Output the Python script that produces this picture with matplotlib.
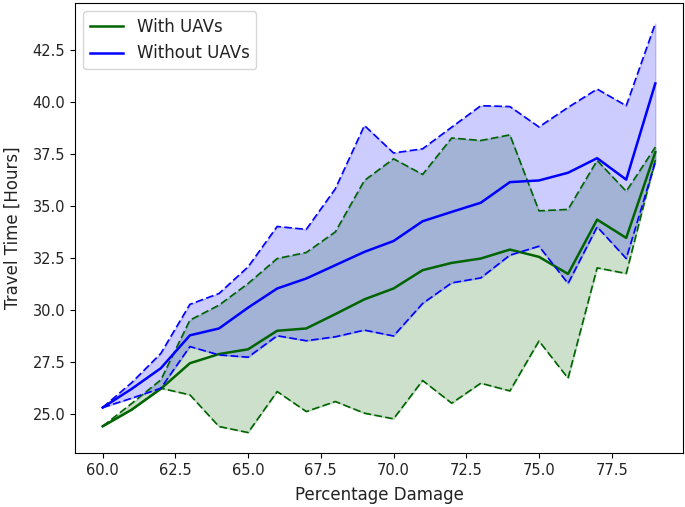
import numpy as np
import matplotlib
matplotlib.use("Agg")
import matplotlib.pyplot as plt

# percentage damage (x axis)
damage = list(range(60, 80))

# travel time with UAVs: mean and band edges
with_mean = [24.4, 25.2, 26.2, 27.43, 27.87, 28.1, 28.99, 29.1, 29.79, 30.5,
             31.02, 31.9, 32.25, 32.46, 32.89, 32.54, 31.72, 34.33, 33.45, 37.57]
with_upper = [24.4, 25.5, 26.63, 29.5, 30.22, 31.26, 32.46, 32.75, 33.74, 36.21,
              37.25, 36.5, 38.25, 38.13, 38.4, 34.75, 34.82, 37.17, 35.69, 37.81]
with_lower = [24.4, 25.2, 26.23, 25.91, 24.39, 24.1, 26.07, 25.11, 25.59, 25.03,
              24.76, 26.6, 25.51, 26.47, 26.1, 28.5, 26.71, 32.01, 31.74, 37.2]

# travel time without UAVs
without_mean = [25.3, 26.2, 27.19, 28.77, 29.1, 30.1, 31.02, 31.5, 32.14, 32.78,
                33.3, 34.25, 34.7, 35.14, 36.13, 36.21, 36.58, 37.28, 36.25, 40.87]
without_upper = [25.3, 26.5, 27.9, 30.26, 30.78, 32.06, 34.0, 33.86, 35.81, 38.85,
                 37.53, 37.73, 38.77, 39.8, 39.76, 38.78, 39.72, 40.6, 39.8, 43.75]
without_lower = [25.3, 25.75, 26.23, 28.23, 27.83, 27.72, 28.75, 28.51, 28.7, 29.02,
                 28.74, 30.3, 31.29, 31.53, 32.62, 33.05, 31.26, 33.98, 32.46, 37.09]

fig = plt.figure(figsize=(6.85, 5.07), dpi=100)
ax = fig.add_axes([0.1095, 0.1065, 0.8875, 0.8875])

dash = (4.6, 2.0)

ax.plot(damage, with_mean, color="darkgreen", linewidth=1.8, label="With UAVs")
ax.plot(damage, with_upper, "--", color="darkgreen", linewidth=1.2, dashes=dash)
ax.plot(damage, with_lower, "--", color="darkgreen", linewidth=1.2, dashes=dash)
ax.fill_between(damage, with_lower, with_upper, color="darkgreen", alpha=0.2)

ax.plot(damage, without_mean, color="blue", linewidth=1.8, label="Without UAVs")
ax.plot(damage, without_upper, "--", color="blue", linewidth=1.2, dashes=dash)
ax.plot(damage, without_lower, "--", color="blue", linewidth=1.2, dashes=dash)
ax.fill_between(damage, without_lower, without_upper, color="blue", alpha=0.2)

ax.set_xlabel("Percentage Damage", fontsize=12, labelpad=6, color="#222222")
ax.set_ylabel("Travel Time [Hours]", fontsize=12, labelpad=8, color="#222222")
ax.tick_params(labelsize=10.5, labelcolor="#222222")
leg = ax.legend(loc="upper left", fontsize=12)
for t in leg.get_texts():
    t.set_color("#222222")

fig.savefig("out.png", dpi=100)
